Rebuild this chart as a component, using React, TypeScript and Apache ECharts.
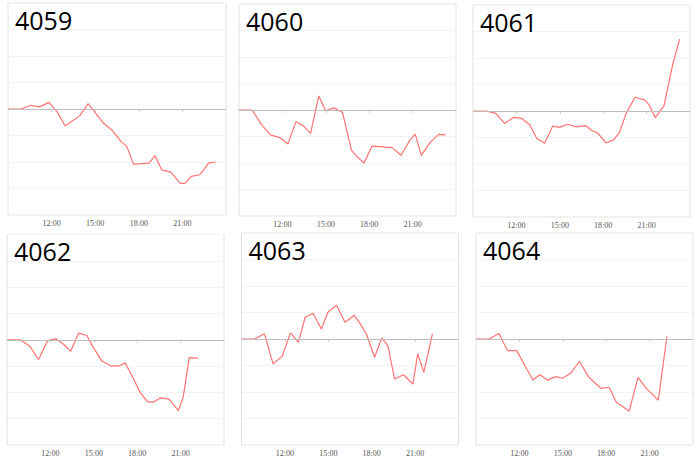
import React, { useEffect, useRef } from "react";
import * as echarts from "echarts";

const times = ["09:00","09:54","10:35","11:11","11:49","12:23","12:56","13:24","13:57","14:31","14:59","15:34","16:09","16:47","17:10","17:38","18:12","18:42","19:07","19:35","20:12","20:51","21:11","21:36","22:12","22:48","23:17"];

const names = ["4059", "4060", "4061", "4062", "4063", "4064"];

const s4059 = [0,0,0.14,0.08,0.25,-0.11,-0.64,-0.46,-0.25,0.20,-0.13,-0.54,-0.79,-1.23,-1.40,-2.08,-2.06,-2.04,-1.76,-2.30,-2.38,-2.81,-2.81,-2.54,-2.48,-2.04,-2.00];
const s4060 = [0,0,-0.57,-0.94,-1.04,-1.28,-0.44,-0.57,-0.88,0.53,-0.03,0.08,-0.09,-1.53,-1.76,-2.01,-1.36,-1.38,-1.40,-1.42,-1.71,-1.11,-0.91,-1.71,-1.23,-0.92,-0.94];
const s4061 = [0,0,-0.09,-0.47,-0.24,-0.28,-0.53,-1.03,-1.22,-0.57,-0.62,-0.50,-0.60,-0.55,-0.72,-0.84,-1.20,-1.10,-0.82,-0.09,0.52,0.42,0.23,-0.25,0.19,1.74,2.71];
const s4062 = [0,0,-0.25,-0.75,-0.03,0.03,-0.18,-0.44,0.25,0.16,-0.31,-0.81,-0.99,-0.99,-0.88,-1.36,-2.00,-2.35,-2.38,-2.21,-2.26,-2.69,-2.16,-0.68,-0.70,null,null];
const s4063 = [0,0,0.20,-0.94,-0.65,0.23,-0.13,0.82,0.97,0.38,1.02,1.27,0.63,0.89,0.61,0.19,-0.69,0.04,-0.25,-1.51,-1.35,-1.70,-0.55,-1.26,0.20,null,null];
const s4064 = [0,0,0.21,-0.44,-0.44,-1.01,-1.55,-1.35,-1.55,-1.42,-1.48,-1.28,-0.84,-1.43,-1.63,-1.86,-1.82,-2.39,-2.54,-2.73,-1.45,-1.91,-2.08,-2.31,0.10,null,null];

const seriesValues = [s4059, s4060, s4061, s4062, s4063, s4064];

const xTicks = [9, 12, 15, 18, 21, 24];

const panels = [
  { left: 8, top: 3, width: 218, height: 212 },
  { left: 239, top: 4, width: 217, height: 212 },
  { left: 473, top: 5, width: 217, height: 212 },
  { left: 7, top: 234.5, width: 217, height: 212 },
  { left: 241.5, top: 233, width: 217, height: 212 },
  { left: 476, top: 233, width: 217, height: 212 },
];

const toHours = (s: string) => {
  const [h, m] = s.split(":").map(Number);
  return h + m / 60;
};

export default function App() {
  const ref = useRef<HTMLDivElement>(null);
  useEffect(() => {
    if (!ref.current) return;
    const chart = echarts.init(ref.current, null, { renderer: "svg" });
    const option: any = {
      animation: false,
      backgroundColor: "#ffffff",
      title: panels.map((p, i) => ({
        text: names[i],
        left: p.left + 7,
        top: p.top + 4,
        padding: 0,
        textStyle: { fontSize: 25, fontWeight: "normal", color: "#000", fontFamily: "Open Sans" },
      })),
      grid: panels.map((p) => ({
        left: p.left,
        top: p.top,
        width: p.width,
        height: p.height,
        show: true,
        borderColor: "#e2e2e2",
        borderWidth: 1,
        backgroundColor: "transparent",
      })),
      xAxis: panels.map((_, i) => ({
        type: "value",
        gridIndex: i,
        min: xTicks[0],
        max: xTicks[xTicks.length - 1],
        interval: 3,
        splitLine: { show: false },
        axisLine: { show: true, lineStyle: { color: "#dedede" } },
        axisTick: { show: true, length: 3, lineStyle: { color: "#d0d0d0" } },
        axisLabel: {
          showMinLabel: false,
          showMaxLabel: false,
          margin: 4,
          fontSize: 8,
          color: "#555",
          fontFamily: "Liberation Serif",
          formatter: (v: number) => `${v}:00`,
        },
      })),
      yAxis: panels.map((_, i) => ({
        type: "value",
        gridIndex: i,
        min: -4,
        max: 4,
        interval: 1,
        axisLabel: { show: false },
        axisLine: { show: false },
        axisTick: { show: false },
        splitLine: { show: true, lineStyle: { color: "#f3f3f3", width: 1 } },
      })),
      series: seriesValues.map((vals, i) => ({
        type: "line",
        xAxisIndex: i,
        yAxisIndex: i,
        showSymbol: false,
        symbol: "none",
        silent: true,
        data: times
          .map((t, k) => [toHours(t), vals[k]])
          .filter((d) => d[1] !== null),
        lineStyle: { color: "#ff7373", width: 1.2 },
        markLine: {
          silent: true,
          symbol: "none",
          label: { show: false },
          lineStyle: { color: "#bdbdbd", type: "solid", width: 1 },
          data: [{ yAxis: 0 }],
        },
        z: 3,
      })),
    };
    chart.setOption(option);
    return () => chart.dispose();
  }, []);
  return (
    <div
      ref={ref}
      style={{ position: "fixed", left: 0, top: 0, width: 700, height: 457 }}
    />
  );
}
